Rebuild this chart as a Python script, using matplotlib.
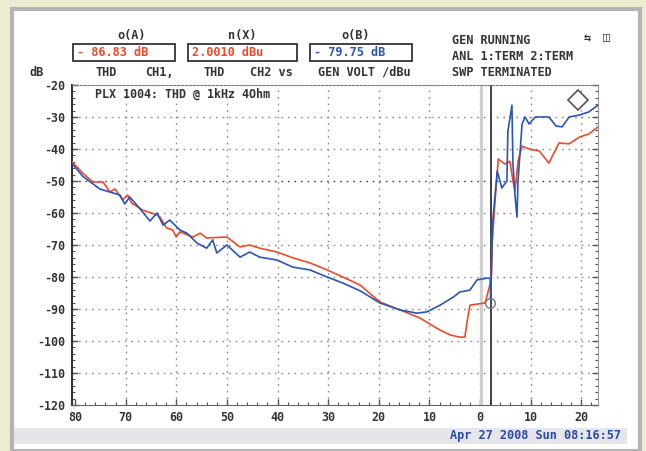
import matplotlib
matplotlib.use("Agg")
import matplotlib.pyplot as plt
from matplotlib.patches import Rectangle
from matplotlib.ticker import MultipleLocator

# x axis: generator level in dBu, y axis: THD in dB
red_x = [-80.6, -78.5, -76.5, -74.5, -73.1, -72.1, -70.6, -69.6, -68.8, -66.6,
         -63.8, -63.2, -61.9, -60.7, -60.0, -59.3, -56.7, -55.3, -54.0, -50.0,
         -47.4, -45.5, -43.5, -40.1, -37.0, -33.6, -30.2, -27.1, -23.7, -19.8,
         -15.8, -11.9, -7.9, -5.9, -4.0, -3.0, -2.6, -2.4, -2.0, 1.0,
         2.2, 2.3, 2.4, 3.0, 3.6, 4.9, 5.9, 6.5, 6.9, 7.5,
         8.3, 9.7, 11.7, 13.6, 15.6, 17.6, 19.6, 21.5, 23.3]
red_y = [-44.0, -47.5, -50.3, -50.3, -53.4, -52.5, -55.9, -54.4, -56.9, -59.1,
         -60.6, -61.3, -64.7, -65.3, -67.5, -65.9, -67.5, -66.3, -67.8, -67.5,
         -70.6, -70.0, -71.0, -72.2, -74.0, -75.6, -77.8, -80.0, -82.5, -87.8,
         -90.3, -92.8, -96.6, -98.1, -98.8, -98.8, -94.4, -92.5, -88.8, -88.1,
         -81.0, -75.0, -69.0, -55.3, -43.1, -44.7, -43.8, -50.0, -53.1, -43.8,
         -39.1, -40.0, -40.6, -44.4, -38.1, -38.4, -36.3, -35.3, -33.1]

blue_x = [-80.6, -78.5, -75.1, -71.1, -70.2, -69.2, -67.8, -65.2, -63.8, -62.6,
          -61.3, -59.3, -57.9, -55.9, -54.0, -52.8, -52.0, -50.0, -47.4, -45.5,
          -43.5, -40.1, -37.0, -33.6, -30.2, -27.1, -23.7, -19.8, -15.8, -12.5,
          -10.5, -7.9, -5.3, -4.0, -2.0, -0.6, 1.6, 2.0, 2.1, 2.3,
          2.5, 3.4, 4.3, 5.3, 5.5, 6.3, 6.5, 6.9, 7.3, 7.5,
          8.3, 8.9, 9.7, 10.9, 13.6, 15.0, 16.2, 17.6, 19.6, 21.5, 23.3]
blue_y = [-44.5, -48.5, -52.5, -54.4, -57.2, -55.0, -57.5, -62.5, -60.0, -63.8,
          -62.2, -65.3, -66.3, -69.4, -71.0, -68.4, -72.5, -70.0, -73.8, -72.2,
          -73.8, -74.7, -76.9, -77.8, -80.0, -81.9, -84.3, -88.1, -90.3, -91.3,
          -90.9, -88.8, -86.3, -84.7, -84.1, -80.9, -80.3, -80.5, -87.2, -75.0,
          -62.8, -46.9, -52.2, -50.0, -34.4, -26.3, -44.7, -54.4, -61.3, -50.0,
          -32.2, -30.0, -32.2, -30.0, -30.0, -32.8, -33.1, -30.0, -29.4, -28.4, -26.3]

x_ticks = [-80, -70, -60, -50, -40, -30, -20, -10, 0, 10, 20]
x_labels = ["80", "70", "60", "50", "40", "30", "20", "10", "0", "10", "20"]
y_ticks = [-20, -30, -40, -50, -60, -70, -80, -90, -100, -110, -120]
y_labels = ["-20", "-30", "-40", "-50", "-60", "-70", "-80", "-90", "-100", "-110", "-120"]

W, H = 646, 451
RED = "#ee4a2a"
BLUE = "#2a55b8"
MONO = "DejaVu Sans Mono"

def fx(px):
    return px / W

def fy(py):
    return 1 - py / H

fig = plt.figure(figsize=(W / 100, H / 100), dpi=100)
fig.patch.set_facecolor("#eeedd2")

# instrument panel
fig.patches.append(Rectangle((fx(12), 0), fx(640) - fx(12), fy(9), transform=fig.transFigure,
                             facecolor="white", edgecolor="#b4b4b4", lw=3, zorder=-5))
fig.patches.append(Rectangle((fx(14), fy(444)), fx(627) - fx(14), 16 / H, transform=fig.transFigure,
                             facecolor="#e6e6ea", edgecolor="none", zorder=-4))
fig.text(fx(621), fy(436), "Apr 27 2008 Sun 08:16:57", color="#2a4aa8", family=MONO,
         fontsize=8.6, fontweight="bold", ha="right", va="center")

# header
hdr = dict(family=MONO, fontsize=8.6, fontweight="bold", va="center", color="#333333")
fig.text(fx(132), fy(35), "o(A)", ha="center", **hdr)
fig.text(fx(242), fy(35), "n(X)", ha="center", **hdr)
fig.text(fx(356), fy(35), "o(B)", ha="center", **hdr)
boxes = [(73, 175, "- 86.83 dB", RED), (188, 297, "2.0010 dBu", RED), (310, 412, "- 79.75 dB", BLUE)]
for x0, x1, txt, col in boxes:
    fig.patches.append(Rectangle((fx(x0), fy(61)), fx(x1) - fx(x0), 17 / H, transform=fig.transFigure,
                                 facecolor="white", edgecolor="#333333", lw=1.3, zorder=-3))
    fig.text(fx(x0 + 4), fy(52.5), txt, ha="left", color=col,
             **{k: v for k, v in hdr.items() if k != "color"})
fig.text(fx(30), fy(72), "dB", ha="left", **hdr)
fig.text(fx(95), fy(72), "THD", ha="left", **hdr)
fig.text(fx(145), fy(72), "CH1,", ha="left", **hdr)
fig.text(fx(203), fy(72), "THD", ha="left", **hdr)
fig.text(fx(250), fy(72), "CH2 vs", ha="left", **hdr)
fig.text(fx(318), fy(72), "GEN VOLT /dBu", ha="left", **hdr)
fig.text(fx(452), fy(40), "GEN RUNNING", ha="left", **hdr)
fig.text(fx(452), fy(56), "ANL 1:TERM 2:TERM", ha="left", **hdr)
fig.text(fx(452), fy(72), "SWP TERMINATED", ha="left", **hdr)
fig.text(fx(587), fy(38), "⇆", ha="center", **hdr)
fig.text(fx(607), fy(38), "◫", ha="center", **hdr)

ax = fig.add_axes([fx(72), fy(405), fx(598) - fx(72), fy(85) - fy(405)])
ax.set_zorder(3)
ax.set_facecolor("white")
ax.set_xlim(-80.6, 23.3)
ax.set_ylim(-120, -20)

for yv in y_ticks[1:-1]:
    ax.axhline(yv, color="#444444" if yv == -50 else "#8a8a8a", lw=1.0,
               ls=(0, (1.2, 3.5)), zorder=1)
for xv in x_ticks[1:]:
    ax.axvline(xv, color="#8a8a8a", lw=1.0, ls=(0, (1.2, 3.5)), zorder=1)

ax.axvline(0.2, color="#cfcfcf", lw=2.2, zorder=2)
ax.axvline(2.2, color="#333333", lw=1.3, zorder=2)

ax.plot(red_x, red_y, color=RED, lw=1.2, zorder=4)
ax.plot(blue_x, blue_y, color=BLUE, lw=1.2, zorder=5)

ax.plot([2.0], [-88.1], marker="o", ms=7, mfc="none", mec="#777777", mew=1, zorder=6)
ax.plot([19.4], [-24.7], marker="D", ms=10, mfc="white", mec="#555555", mew=1.2, zorder=6)
ax.text(-76, -23, "PLX 1004: THD @ 1kHz 4Ohm", family=MONO, fontsize=8.4,
        fontweight="bold", color="#333333", va="center", ha="left", zorder=7)

ax.set_xticks(x_ticks)
ax.set_xticklabels(x_labels)
ax.set_yticks(y_ticks)
ax.set_yticklabels(y_labels)
ax.xaxis.set_minor_locator(MultipleLocator(2))
ax.yaxis.set_minor_locator(MultipleLocator(2))
ax.tick_params(axis="both", which="both", direction="in", colors="#555555",
               labelcolor="#333333", labelsize=8.4, top=False, right=True)
ax.tick_params(which="major", length=4, width=1)
ax.tick_params(which="minor", length=2.5, width=0.8)
ax.tick_params(axis="x", pad=4)
ax.tick_params(axis="y", pad=5)
for lab in ax.get_xticklabels() + ax.get_yticklabels():
    lab.set_family(MONO)
    lab.set_fontweight("bold")
ax.spines["left"].set_color("#333333")
ax.spines["left"].set_linewidth(1.5)
ax.spines["bottom"].set_color("#666666")
ax.spines["top"].set_color("#777777")
ax.spines["top"].set_linestyle((0, (2, 1.5)))
ax.spines["right"].set_color("#999999")

fig.savefig("out.png", dpi=100, facecolor=fig.get_facecolor())
